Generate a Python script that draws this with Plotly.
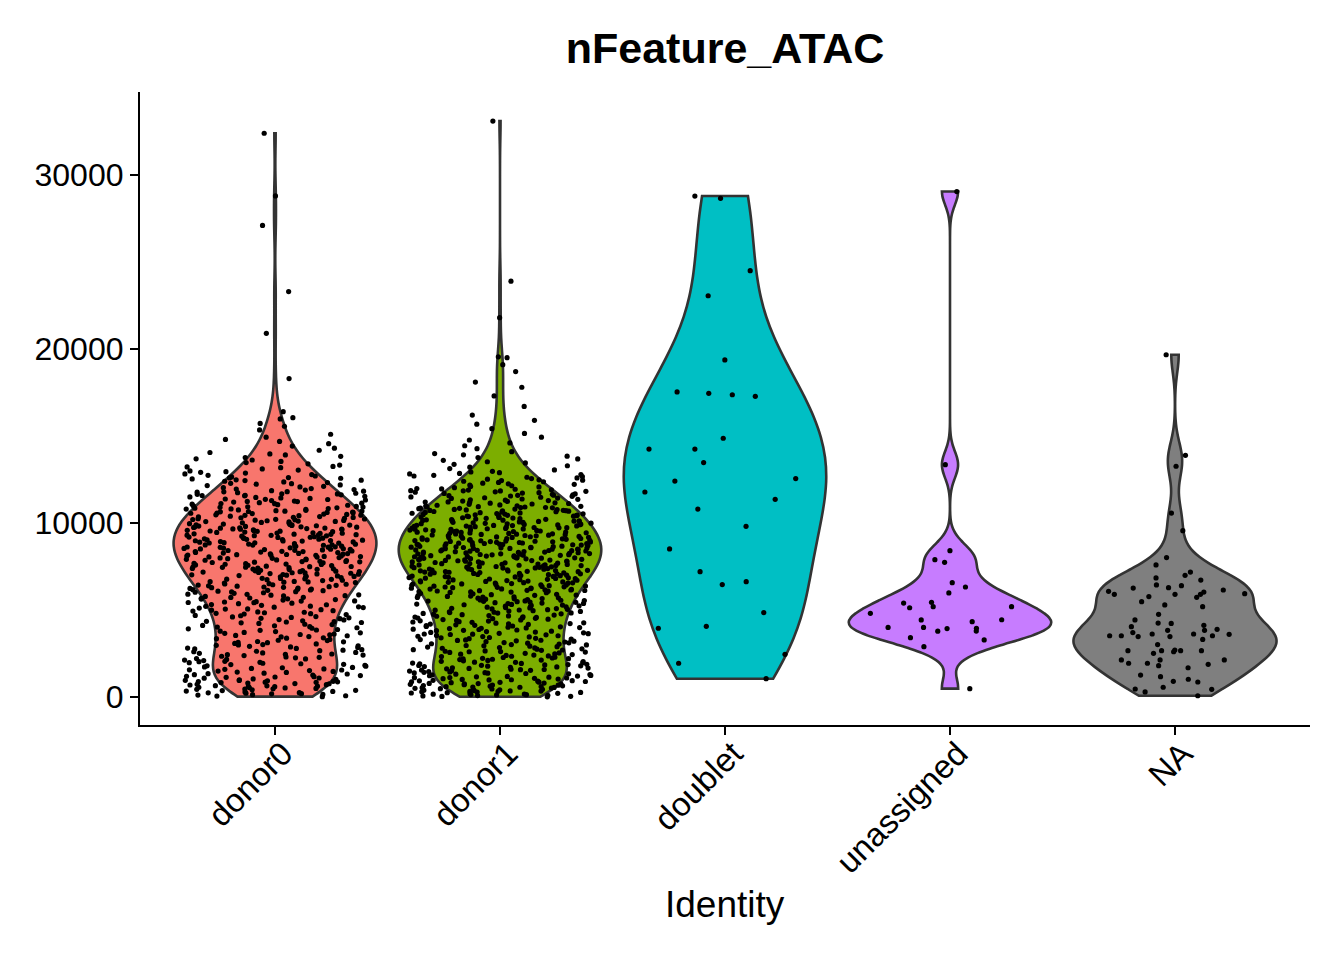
import numpy as np
import plotly.graph_objects as go

# nFeature_ATAC per cell
identities = ["donor0", "donor1", "doublet", "unassigned", "NA"]
fill_colors = ["#F8766D", "#7CAE00", "#00BFC4", "#C77CFF", "#7F7F7F"]
y_ticks = [0, 10000, 20000, 30000]

donor0 = [
    20, 50, 70, 110, 130, 150, 190, 220, 240, 250, 290, 320, 340, 370, 380, 410, 440, 470, 490, 520, 540, 560, 590,
    610, 640, 650, 690, 710, 730, 760, 770, 800, 830, 840, 870, 890, 900, 930, 950, 960, 990, 180, 460, 620, 850,
    1010, 1040, 1080, 1090, 1130, 1170, 1190, 1230, 1260, 1280, 1320, 1340, 1370, 1410, 1430, 1470, 1490, 1520,
    1560, 1590, 1610, 1640, 1680, 1700, 1730, 1770, 1790, 1820, 1860, 1880, 1910, 1940, 1970, 1990, 1150, 1550,
    2030, 2050, 2090, 2120, 2160, 2190, 2210, 2250, 2280, 2300, 2340, 2380, 2410, 2430, 2470, 2510, 2530, 2560,
    2600, 2630, 2660, 2690, 2720, 2760, 2790, 2810, 2850, 2880, 2910, 2940, 2970, 2990, 2450,
    3010, 3050, 3080, 3120, 3170, 3190, 3240, 3260, 3310, 3350, 3380, 3400, 3450, 3470, 3520, 3540, 3590, 3620,
    3660, 3690, 3710, 3760, 3780, 3830, 3850, 3880, 3920, 3950, 3980, 3140, 3570,
    4020, 4040, 4090, 4110, 4160, 4180, 4230, 4260, 4280, 4330, 4350, 4380, 4430, 4450, 4500, 4520, 4570, 4600,
    4620, 4670, 4690, 4740, 4770, 4790, 4840, 4870, 4890, 4940, 4960, 4990, 4310, 4550, 4810,
    5020, 5050, 5060, 5110, 5140, 5160, 5210, 5220, 5270, 5300, 5310, 5360, 5390, 5420, 5430, 5480, 5510, 5520,
    5570, 5600, 5630, 5640, 5690, 5720, 5730, 5780, 5810, 5820, 5870, 5900, 5910, 5960, 5990, 5180, 5460, 5670, 5850,
    6020, 6040, 6050, 6080, 6110, 6130, 6170, 6190, 6200, 6240, 6260, 6280, 6320, 6340, 6370, 6390, 6420, 6430,
    6480, 6500, 6510, 6550, 6580, 6610, 6630, 6640, 6690, 6710, 6740, 6760, 6790, 6810, 6820, 6860, 6890, 6910,
    6930, 6960, 6980, 6150, 6300, 6450, 6600, 6770, 6940,
    7000, 7020, 7040, 7060, 7090, 7110, 7130, 7140, 7180, 7200, 7230, 7250, 7270, 7280, 7320, 7340, 7370, 7390,
    7410, 7430, 7460, 7480, 7500, 7520, 7550, 7570, 7590, 7620, 7640, 7660, 7680, 7710, 7730, 7750, 7770, 7790,
    7800, 7840, 7860, 7880, 7890, 7930, 7950, 7970, 7990, 7070, 7210, 7350, 7490, 7630, 7780, 7910, 7450, 7160,
    8010, 8040, 8050, 8070, 8100, 8110, 8140, 8150, 8180, 8190, 8210, 8240, 8250, 8270, 8300, 8310, 8330, 8360,
    8370, 8390, 8420, 8430, 8450, 8480, 8490, 8510, 8540, 8550, 8570, 8600, 8610, 8630, 8660, 8670, 8690, 8720,
    8730, 8750, 8780, 8790, 8810, 8840, 8850, 8870, 8900, 8910, 8930, 8960, 8970, 8990, 8080, 8230, 8360, 8470,
    8620, 8740, 8860, 8980, 8520, 8160,
    9010, 9030, 9060, 9070, 9090, 9120, 9130, 9150, 9180, 9190, 9210, 9240, 9260, 9270, 9300, 9320, 9330, 9360,
    9380, 9400, 9420, 9440, 9460, 9480, 9500, 9520, 9540, 9560, 9580, 9600, 9620, 9640, 9660, 9680, 9700, 9720,
    9740, 9760, 9780, 9800, 9820, 9840, 9860, 9880, 9900, 9920, 9940, 9960, 9980, 9050, 9170, 9290, 9410, 9530,
    9650, 9770, 9890, 9350, 9710,
    10010, 10030, 10060, 10080, 10110, 10130, 10150, 10180, 10200, 10230, 10250, 10270, 10300, 10320, 10350,
    10370, 10390, 10420, 10440, 10470, 10490, 10510, 10540, 10560, 10590, 10610, 10630, 10660, 10680, 10710,
    10730, 10750, 10780, 10800, 10830, 10850, 10870, 10900, 10920, 10950, 10980, 10090, 10210, 10330, 10450,
    10570, 10690, 10810, 10930, 10160, 10640,
    11020, 11050, 11080, 11110, 11140, 11170, 11200, 11230, 11260, 11290, 11320, 11350, 11380, 11410, 11440,
    11470, 11500, 11530, 11560, 11590, 11620, 11650, 11680, 11710, 11740, 11770, 11800, 11830, 11860, 11890,
    11920, 11950, 11980, 11120, 11360, 11580, 11790, 11240, 11670,
    12030, 12070, 12110, 12150, 12190, 12230, 12280, 12320, 12360, 12400, 12440, 12480, 12530, 12570, 12610,
    12650, 12700, 12740, 12780, 12820, 12870, 12910, 12950, 12990, 12260, 12590, 12460,
    13040, 13110, 13180, 13250, 13330, 13400, 13470, 13540, 13620, 13690, 13760, 13830, 13910, 13970, 13220,
    14050, 14180, 14300, 14420, 14560, 14690, 14800, 14930,
    15100, 15350, 15560, 15720, 15980,
    16050, 16400,
    18300, 20900, 23300, 27100, 28800, 32400,
]

donor1 = [
    10, 30, 40, 60, 80, 100, 120, 130, 160, 170, 190, 210, 230, 250, 260, 280, 300, 320, 340, 350, 370, 390, 410,
    420, 440, 460, 480, 500, 510, 530, 550, 570, 590, 600, 620, 640, 660, 680, 690, 710, 730, 750, 760, 780, 800,
    820, 840, 850, 870, 890, 910, 930, 940, 960, 980, 990, 140, 330, 560, 770,
    1010, 1030, 1050, 1070, 1090, 1110, 1140, 1160, 1180, 1200, 1220, 1240, 1270, 1290, 1310, 1330, 1350, 1380,
    1400, 1420, 1440, 1460, 1490, 1510, 1530, 1550, 1570, 1600, 1620, 1640, 1660, 1680, 1710, 1730, 1750, 1770,
    1790, 1820, 1840, 1860, 1880, 1900, 1930, 1950, 1970, 1990, 1120, 1370, 1580, 1810,
    2000, 2030, 2050, 2080, 2100, 2120, 2150, 2170, 2200, 2220, 2240, 2270, 2290, 2320, 2340, 2360, 2390, 2410,
    2440, 2460, 2480, 2510, 2530, 2560, 2580, 2600, 2630, 2650, 2680, 2700, 2720, 2750, 2770, 2800, 2820, 2840,
    2870, 2890, 2920, 2940, 2960, 2990, 2190, 2610,
    3010, 3040, 3060, 3090, 3110, 3130, 3160, 3180, 3210, 3230, 3250, 3280, 3300, 3330, 3350, 3370, 3400, 3420,
    3450, 3470, 3490, 3520, 3540, 3570, 3590, 3610, 3640, 3660, 3690, 3710, 3730, 3760, 3780, 3810, 3830, 3850,
    3880, 3900, 3930, 3950, 3970, 3990, 3260, 3620,
    4010, 4030, 4050, 4080, 4100, 4120, 4150, 4170, 4190, 4220, 4240, 4260, 4290, 4310, 4330, 4360, 4380, 4400,
    4430, 4450, 4470, 4500, 4520, 4540, 4570, 4590, 4610, 4640, 4660, 4680, 4710, 4730, 4750, 4780, 4800, 4820,
    4850, 4870, 4890, 4920, 4940, 4960, 4990, 4210, 4560, 4830,
    5000, 5020, 5040, 5060, 5080, 5100, 5120, 5140, 5160, 5180, 5200, 5220, 5240, 5260, 5280, 5300, 5320, 5340,
    5360, 5380, 5400, 5420, 5440, 5460, 5480, 5500, 5520, 5540, 5560, 5580, 5600, 5620, 5640, 5660, 5680, 5700,
    5720, 5740, 5760, 5780, 5800, 5820, 5840, 5860, 5880, 5900, 5930, 5960, 5990, 5510,
    6010, 6030, 6040, 6060, 6080, 6090, 6110, 6130, 6150, 6160, 6180, 6200, 6210, 6230, 6250, 6260, 6280, 6300,
    6320, 6330, 6350, 6370, 6380, 6400, 6420, 6440, 6450, 6470, 6490, 6500, 6520, 6540, 6560, 6570, 6590, 6610,
    6620, 6640, 6660, 6680, 6690, 6710, 6730, 6740, 6760, 6780, 6800, 6810, 6830, 6850, 6860, 6880, 6900, 6920,
    6930, 6950, 6970, 6980, 6120, 6550,
    7000, 7010, 7030, 7040, 7060, 7070, 7080, 7100, 7110, 7130, 7140, 7150, 7170, 7180, 7200, 7210, 7220, 7240,
    7250, 7270, 7280, 7290, 7310, 7320, 7340, 7350, 7360, 7380, 7390, 7410, 7420, 7430, 7450, 7460, 7480, 7490,
    7500, 7520, 7530, 7550, 7560, 7570, 7590, 7600, 7620, 7630, 7640, 7660, 7670, 7690, 7700, 7710, 7730, 7740,
    7760, 7770, 7780, 7800, 7810, 7830, 7840, 7850, 7870, 7880, 7900, 7910, 7920, 7940, 7950, 7970, 7980, 7990,
    8000, 8010, 8030, 8040, 8050, 8070, 8080, 8100, 8110, 8120, 8140, 8150, 8170, 8180, 8190, 8210, 8220, 8240,
    8250, 8260, 8280, 8290, 8310, 8320, 8330, 8350, 8360, 8380, 8390, 8400, 8420, 8430, 8450, 8460, 8470, 8490,
    8500, 8520, 8530, 8540, 8560, 8570, 8590, 8600, 8610, 8630, 8640, 8660, 8670, 8680, 8700, 8710, 8730, 8740,
    8750, 8770, 8780, 8800, 8810, 8820, 8840, 8850, 8870, 8880, 8890, 8910, 8920, 8940, 8950, 8960, 8980, 8990,
    8060, 8230, 8410, 8580, 8760, 8930,
    9000, 9020, 9030, 9040, 9060, 9070, 9090, 9100, 9110, 9130, 9140, 9160, 9170, 9180, 9200, 9210, 9230, 9240,
    9260, 9270, 9280, 9300, 9310, 9330, 9340, 9360, 9370, 9380, 9400, 9410, 9430, 9440, 9460, 9470, 9480, 9500,
    9510, 9530, 9540, 9560, 9570, 9590, 9600, 9610, 9630, 9640, 9660, 9670, 9690, 9700, 9720, 9730, 9740, 9760,
    9770, 9790, 9800, 9820, 9830, 9850, 9860, 9870, 9890, 9900, 9920, 9930, 9950, 9960, 9980, 9990,
    10010, 10030, 10040, 10060, 10080, 10090, 10110, 10130, 10150, 10160, 10180, 10200, 10210, 10230, 10250,
    10270, 10280, 10300, 10320, 10340, 10350, 10370, 10390, 10400, 10420, 10440, 10460, 10470, 10490, 10510,
    10530, 10540, 10560, 10580, 10590, 10610, 10630, 10650, 10660, 10680, 10700, 10720, 10730, 10750, 10770,
    10780, 10800, 10820, 10840, 10850, 10870, 10890, 10910, 10920, 10940, 10960, 10970, 10990, 10120, 10450,
    10710, 10880,
    11020, 11040, 11070, 11090, 11120, 11140, 11160, 11190, 11210, 11240, 11260, 11290, 11310, 11330, 11360,
    11380, 11410, 11430, 11450, 11480, 11500, 11530, 11550, 11570, 11600, 11620, 11650, 11670, 11700, 11720,
    11740, 11770, 11790, 11820, 11840, 11860, 11890, 11910, 11940, 11960, 11980, 11200, 11590, 11850,
    12030, 12070, 12100, 12140, 12180, 12220, 12250, 12290, 12330, 12370, 12400, 12440, 12480, 12520, 12550,
    12590, 12630, 12670, 12700, 12740, 12780, 12820, 12850, 12890, 12930, 12970, 12460,
    13050, 13130, 13210, 13290, 13370, 13450, 13520, 13600, 13680, 13760, 13840, 13920, 13990,
    14100, 14270, 14440, 14600, 14770, 14930,
    15150, 15420, 15680, 15900,
    16200, 16700,
    17300, 17800, 18100, 18700, 19100, 19500, 19550, 21800, 23900, 33100,
]

doublet = [
    28660, 28790, 24500, 23060, 19370, 17530, 17370, 17450, 17280, 14870, 14250, 14250, 13470, 12550, 12410,
    11780, 11360, 10800, 9810, 8510, 7200, 6630, 6460, 4850, 4060, 3950, 2450, 1940, 1050,
]

unassigned = [
    29050, 13350, 8410, 7890, 7740, 6570, 6320, 5980, 5440, 5400, 5190, 5190, 5130, 4810, 4430, 4440, 4330,
    4000, 4000, 3950, 3930, 3780, 3790, 3410, 3280, 2890, 480,
]

na_cells = [
    19670, 13890, 13260, 10570, 9560, 8010, 7590, 7180, 6990, 6840, 6720, 6440, 6400, 6260, 6280, 6150, 6030,
    6070, 5940, 5900, 5900, 5900, 5770, 5730, 5480, 5290, 5190, 4750, 4430, 4250, 4230, 4120, 4040, 3890, 3830,
    3830, 3700, 3620, 3620, 3600, 3520, 3520, 3520, 3470, 3470, 3310, 3010, 2700, 2660, 2660, 2660, 2660, 2600,
    2510, 2130, 2130, 2130, 1940, 1940, 1880, 1800, 1680, 1260, 1170, 1020, 900, 860, 560, 460, 440, 290, 70,
]

groups = [donor0, donor1, doublet, unassigned, na_cells]


def bw_nrd0(v):
    # same rule of thumb R uses for geom_violin
    v = np.asarray(v, dtype=float)
    q75, q25 = np.percentile(v, [75, 25])
    lo = min(v.std(ddof=1), (q75 - q25) / 1.34)
    return 0.9 * lo * len(v) ** -0.2


fig = go.Figure()
for name, vals, col in zip(identities, groups, fill_colors):
    fig.add_trace(go.Violin(
        x=[name] * len(vals), y=vals, name=name,
        fillcolor=col, line=dict(color="#333333", width=2.6),
        width=0.9, scalemode="width", spanmode="hard",
        bandwidth=bw_nrd0(vals),
        points="all", pointpos=0, jitter=0.9,
        marker=dict(color="black", size=5.2, line=dict(width=0)),
        box_visible=False, meanline_visible=False,
        showlegend=False, hoverinfo="skip",
    ))

font_family = "Liberation Sans, Arial, Helvetica, sans-serif"
# the page body adds an 8px offset, so margins are shifted to compensate
fig.update_layout(
    width=1344, height=960,
    margin=dict(l=132, r=42, t=84, b=243),
    paper_bgcolor="white", plot_bgcolor="white",
    font=dict(family=font_family, color="black"),
    title=dict(text="nFeature_ATAC", x=0.5, xref="paper", xanchor="center",
               y=1 - 40 / 960, yref="container", yanchor="middle",
               font=dict(size=43, weight="bold", color="black")),
    violinmode="overlay",
)
fig.add_annotation(text="Identity", x=0.5, xref="paper", y=-0.284, yref="paper",
                   xanchor="center", yanchor="middle", showarrow=False,
                   font=dict(size=37, color="black"))
fig.update_xaxes(
    type="category", categoryorder="array", categoryarray=identities,
    range=[-0.6, 4.6], showline=True, linecolor="black", linewidth=2.2,
    ticks="outside", ticklen=8, tickwidth=2.2, tickcolor="black",
    tickangle=-45, tickfont=dict(size=33), showgrid=False, zeroline=False,
    ticklabelshift=8, ticklabelstandoff=-14,
)
fig.update_yaxes(
    range=[-1610, 34770], tickvals=y_ticks, ticktext=[str(t) for t in y_ticks],
    showline=True, linecolor="black", linewidth=2.2,
    ticks="outside", ticklen=8, tickwidth=2.2, tickcolor="black",
    tickfont=dict(size=32), showgrid=False, zeroline=False,
)

fig.write_html("out.html")
